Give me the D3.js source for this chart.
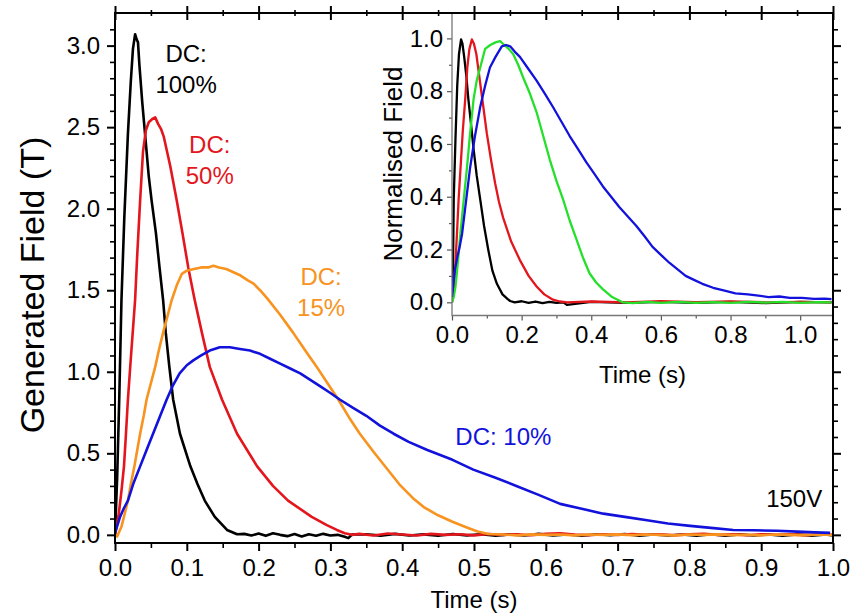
<!DOCTYPE html>
<html>
<head>
<meta charset="utf-8">
<script src="https://cdn.jsdelivr.net/npm/d3@7"></script>
<style>
  body { margin: 0; background: #fff; }
  svg text { font-family: "Liberation Sans", Arial, Helvetica, sans-serif; }
</style>
</head>
<body>
<svg width="856" height="614"></svg>
<script>
'use strict';

// ---- main panel: generated field (T) vs time (s) ----
const dc100 = [
  [0, 0], [0.003, 0.35], [0.006, 0.85], [0.009, 1.44], [0.013, 1.95], [0.018, 2.46],
  [0.022, 2.78], [0.025, 2.98], [0.028, 3.07], [0.030, 3.04], [0.032, 3.02], [0.034, 2.88],
  [0.038, 2.65], [0.043, 2.40], [0.047, 2.20], [0.051, 2.05], [0.057, 1.85], [0.062, 1.64],
  [0.067, 1.44], [0.0707, 1.24], [0.0757, 1.03], [0.081, 0.83], [0.0905, 0.62], [0.105, 0.42],
  [0.115, 0.31], [0.125, 0.21], [0.139, 0.11], [0.156, 0.03], [0.170, 0.004],
  [0.18, 0.006], [0.19, -0.004], [0.20, 0.008], [0.21, -0.006], [0.22, 0.01], [0.23, 0.0],
  [0.24, -0.008], [0.25, 0.005], [0.26, -0.01], [0.27, 0.004], [0.28, -0.006], [0.29, 0.006],
  [0.30, -0.004], [0.31, 0.0], [0.32, -0.012], [0.325, -0.02], [0.33, 0.002], [0.35, 0.004],
  [0.37, -0.005], [0.39, 0.006], [0.41, -0.004], [0.43, 0.003], [0.45, -0.006], [0.47, 0.005],
  [0.49, -0.003], [0.51, 0.004], [0.53, -0.005], [0.55, 0.003], [0.57, -0.004], [0.59, 0.006],
  [0.61, -0.003], [0.63, 0.002], [0.65, -0.006], [0.67, 0.004], [0.69, -0.002], [0.71, 0.005],
  [0.73, -0.006], [0.75, 0.003], [0.77, -0.004], [0.79, 0.002], [0.81, -0.006], [0.83, 0.004],
  [0.85, -0.005], [0.87, 0.003], [0.89, -0.004], [0.91, 0.002], [0.93, -0.006], [0.95, 0.003],
  [0.97, -0.005], [0.99, 0.002], [1.0, -0.003]
];

const dc50 = [
  [0, 0], [0.005, 0.12], [0.009, 0.27], [0.0125, 0.42], [0.015, 0.60], [0.018, 0.83],
  [0.022, 1.08], [0.025, 1.26], [0.028, 1.44], [0.031, 1.72], [0.035, 2.05], [0.039, 2.35],
  [0.043, 2.48], [0.047, 2.53], [0.052, 2.55], [0.056, 2.56], [0.060, 2.52], [0.064, 2.49],
  [0.068, 2.44], [0.072, 2.36], [0.077, 2.26], [0.086, 2.05], [0.094, 1.85], [0.102, 1.64],
  [0.111, 1.44], [0.121, 1.24], [0.132, 1.03], [0.149, 0.83], [0.170, 0.62], [0.198, 0.42],
  [0.220, 0.30], [0.241, 0.21], [0.274, 0.11], [0.295, 0.06], [0.309, 0.03], [0.32, 0.01],
  [0.33, 0.0], [0.34, 0.006], [0.36, -0.004], [0.38, 0.008], [0.40, 0.002], [0.42, -0.004],
  [0.44, 0.006], [0.46, 0.0], [0.48, 0.004], [0.50, -0.003], [0.52, 0.005], [0.54, 0.0],
  [0.56, 0.004], [0.58, -0.002], [0.60, 0.006], [0.62, 0.01], [0.64, 0.002], [0.66, -0.002],
  [0.68, 0.004], [0.70, 0.0], [0.72, 0.005], [0.74, 0.001], [0.76, 0.004], [0.78, -0.002],
  [0.80, 0.003], [0.82, 0.006], [0.84, 0.0], [0.86, 0.003], [0.88, -0.002], [0.90, 0.004],
  [0.92, 0.001], [0.94, 0.003], [0.96, -0.002], [0.98, 0.002], [1.0, 0.001]
];

const dc15 = [
  [0, 0], [0.003, -0.01], [0.006, 0.02], [0.009, 0.05], [0.013, 0.12], [0.018, 0.21],
  [0.022, 0.31], [0.027, 0.42], [0.031, 0.52], [0.035, 0.62], [0.040, 0.73], [0.044, 0.83],
  [0.050, 0.93], [0.056, 1.03], [0.061, 1.13], [0.067, 1.24], [0.073, 1.34], [0.079, 1.44],
  [0.086, 1.53], [0.093, 1.60], [0.100, 1.62], [0.110, 1.63], [0.120, 1.64], [0.130, 1.64],
  [0.137, 1.65], [0.145, 1.64], [0.155, 1.63], [0.165, 1.61], [0.175, 1.59], [0.185, 1.56],
  [0.193, 1.54], [0.202, 1.50], [0.212, 1.45], [0.230, 1.35], [0.248, 1.24], [0.265, 1.13],
  [0.281, 1.03], [0.296, 0.93], [0.311, 0.83], [0.326, 0.72], [0.341, 0.62], [0.360, 0.51],
  [0.378, 0.41], [0.396, 0.31], [0.415, 0.225], [0.430, 0.17], [0.450, 0.12], [0.470, 0.08],
  [0.490, 0.045], [0.505, 0.02], [0.52, 0.005], [0.54, 0.002], [0.56, -0.003], [0.58, 0.003],
  [0.60, 0.0], [0.62, 0.002], [0.64, -0.003], [0.66, 0.002], [0.68, 0.0], [0.70, 0.003],
  [0.72, -0.002], [0.74, 0.002], [0.76, 0.0], [0.78, -0.003], [0.80, 0.002], [0.82, 0.0],
  [0.84, 0.003], [0.86, -0.002], [0.88, 0.001], [0.90, -0.003], [0.92, 0.002], [0.94, 0.0],
  [0.96, -0.002], [0.98, 0.003], [1.0, 0.0]
];

const dc10 = [
  [0, 0.01], [0.007, 0.11], [0.012, 0.16], [0.018, 0.21], [0.026, 0.32], [0.035, 0.42],
  [0.044, 0.52], [0.053, 0.62], [0.062, 0.72], [0.072, 0.83], [0.080, 0.91], [0.090, 0.99],
  [0.100, 1.04], [0.109, 1.07], [0.120, 1.10], [0.132, 1.13], [0.146, 1.15], [0.160, 1.15],
  [0.174, 1.14], [0.188, 1.13], [0.202, 1.11], [0.216, 1.08], [0.230, 1.05], [0.244, 1.02],
  [0.258, 0.99], [0.272, 0.95], [0.286, 0.91], [0.300, 0.87], [0.313, 0.83], [0.331, 0.78],
  [0.350, 0.73], [0.369, 0.67], [0.388, 0.62], [0.409, 0.57], [0.435, 0.52], [0.470, 0.46],
  [0.499, 0.40], [0.530, 0.35], [0.559, 0.30], [0.590, 0.245], [0.620, 0.19], [0.650, 0.16],
  [0.680, 0.13], [0.710, 0.11], [0.741, 0.09], [0.770, 0.07], [0.801, 0.055], [0.830, 0.043],
  [0.861, 0.03], [0.890, 0.028], [0.922, 0.025], [0.950, 0.02], [0.975, 0.015], [0.996, 0.012]
];

// ---- inset: normalised field vs time (s) ----
const norm100 = [
  [0, 0], [0.003, 0.15], [0.005, 0.39], [0.010, 0.62], [0.015, 0.82], [0.020, 0.94],
  [0.026, 0.996], [0.030, 0.98], [0.035, 0.93], [0.041, 0.86], [0.047, 0.77], [0.055, 0.67],
  [0.062, 0.58], [0.071, 0.48], [0.081, 0.39], [0.092, 0.29], [0.104, 0.20], [0.116, 0.12],
  [0.129, 0.07], [0.145, 0.03], [0.160, 0.012], [0.167, 0.005], [0.18, 0.0], [0.20, 0.004],
  [0.22, -0.002], [0.24, 0.003], [0.26, -0.003], [0.28, 0.002], [0.30, -0.002], [0.32, 0.0],
  [0.33, -0.01], [0.40, 0.002], [0.50, -0.002], [0.60, 0.002], [0.70, -0.002], [0.80, 0.002],
  [0.90, -0.003], [1.00, 0.002], [1.09, 0.0]
];

const norm50 = [
  [0, 0], [0.005, 0.05], [0.010, 0.15], [0.015, 0.28], [0.019, 0.39], [0.025, 0.52],
  [0.031, 0.65], [0.038, 0.77], [0.044, 0.89], [0.050, 0.96], [0.057, 0.996], [0.063, 0.98],
  [0.070, 0.94], [0.076, 0.88], [0.081, 0.83], [0.090, 0.74], [0.100, 0.64], [0.112, 0.54],
  [0.124, 0.45], [0.135, 0.38], [0.147, 0.32], [0.170, 0.23], [0.195, 0.16], [0.220, 0.10],
  [0.243, 0.06], [0.265, 0.03], [0.290, 0.01], [0.310, 0.003], [0.330, 0.0], [0.40, 0.003],
  [0.50, 0.0], [0.60, 0.004], [0.70, 0.001], [0.80, 0.003], [0.90, 0.0], [1.00, 0.002], [1.09, 0.0]
];

const norm15 = [
  [0, 0], [0.005, 0.02], [0.010, 0.06], [0.016, 0.14], [0.024, 0.26], [0.033, 0.38],
  [0.043, 0.51], [0.052, 0.64], [0.062, 0.77], [0.071, 0.84], [0.081, 0.89], [0.095, 0.96],
  [0.110, 0.975], [0.125, 0.985], [0.138, 0.99], [0.150, 0.975], [0.163, 0.96], [0.176, 0.94],
  [0.190, 0.90], [0.205, 0.85], [0.224, 0.79], [0.243, 0.72], [0.262, 0.63], [0.281, 0.54],
  [0.300, 0.46], [0.319, 0.39], [0.338, 0.31], [0.357, 0.24], [0.376, 0.17], [0.395, 0.11],
  [0.414, 0.075], [0.433, 0.05], [0.460, 0.02], [0.490, 0.0], [0.52, -0.003], [0.56, 0.002],
  [0.60, -0.002], [0.65, 0.002], [0.70, -0.002], [0.75, 0.001], [0.80, -0.002], [0.85, 0.002],
  [0.90, -0.001], [0.95, 0.002], [1.00, -0.002], [1.05, 0.001], [1.09, 0.0]
];

const norm10 = [
  [0, 0.02], [0.008, 0.12], [0.015, 0.17], [0.022, 0.21], [0.029, 0.26], [0.040, 0.38],
  [0.052, 0.51], [0.066, 0.63], [0.081, 0.74], [0.095, 0.82], [0.109, 0.89], [0.125, 0.93],
  [0.143, 0.97], [0.155, 0.975], [0.167, 0.97], [0.180, 0.95], [0.195, 0.93], [0.219, 0.885],
  [0.243, 0.84], [0.267, 0.79], [0.290, 0.74], [0.314, 0.685], [0.338, 0.63], [0.362, 0.58],
  [0.386, 0.53], [0.410, 0.485], [0.433, 0.44], [0.457, 0.40], [0.481, 0.36], [0.505, 0.325],
  [0.529, 0.29], [0.553, 0.25], [0.576, 0.21], [0.600, 0.18], [0.624, 0.15], [0.648, 0.125],
  [0.671, 0.10], [0.695, 0.085], [0.719, 0.07], [0.750, 0.055], [0.780, 0.045], [0.814, 0.034],
  [0.850, 0.03], [0.880, 0.025], [0.909, 0.02], [0.940, 0.022], [0.970, 0.017], [1.005, 0.017],
  [1.040, 0.013], [1.070, 0.014], [1.090, 0.012]
];

// ticks
const mainXTicks = [0, 0.1, 0.2, 0.3, 0.4, 0.5, 0.6, 0.7, 0.8, 0.9, 1.0];
const mainXMinor = [0.05, 0.15, 0.25, 0.35, 0.45, 0.55, 0.65, 0.75, 0.85, 0.95];
const mainYTicks = [0, 0.5, 1.0, 1.5, 2.0, 2.5, 3.0];
const mainYMinor = [0.1, 0.2, 0.3, 0.4, 0.6, 0.7, 0.8, 0.9, 1.1, 1.2, 1.3, 1.4, 1.6, 1.7,
  1.8, 1.9, 2.1, 2.2, 2.3, 2.4, 2.6, 2.7, 2.8, 2.9, 3.1];
const insetXTicks = [0, 0.2, 0.4, 0.6, 0.8, 1.0];
const insetXMinor = [0.1, 0.3, 0.5, 0.7, 0.9];
const insetYTicks = [0, 0.2, 0.4, 0.6, 0.8, 1.0];
const insetYMinor = [0.1, 0.3, 0.5, 0.7, 0.9];

const colors = { k: '#000000', r: '#e3161d', o: '#f7931e', b: '#1212dc', g: '#25e02a' };

const svg = d3.select('svg');
const fmt = d3.format('.1f');

// ---------- main panel ----------
const m = { left: 115, right: 833, top: 13, bottom: 543 };
const x = d3.scaleLinear().domain([0, 1]).range([m.left, m.right]);
const y = d3.scaleLinear().domain([-0.05, 3.2]).range([m.bottom, m.top]);

svg.append('defs').append('clipPath').attr('id', 'clipMain')
  .append('rect').attr('x', m.left).attr('y', m.top)
  .attr('width', m.right - m.left).attr('height', m.bottom - m.top);

const line = d3.line().x(d => x(d[0])).y(d => y(d[1]));
const plot = svg.append('g').attr('clip-path', 'url(#clipMain)');
[[dc100, colors.k], [dc50, colors.r], [dc15, colors.o], [dc10, colors.b]].forEach(([d, c]) => {
  plot.append('path').datum(d).attr('d', line)
    .attr('fill', 'none').attr('stroke', c).attr('stroke-width', 2.6)
    .attr('stroke-linejoin', 'round');
});

function styleAxis(g, width) {
  g.select('.domain').remove();
  g.selectAll('line').attr('stroke', '#000').attr('stroke-width', width);
  g.selectAll('text').style('font-size', '24px').style('fill', '#000');
}

// bottom
svg.append('g').attr('transform', `translate(0,${m.bottom})`)
  .call(d3.axisBottom(x).tickValues(mainXTicks).tickSizeInner(8).tickSizeOuter(0)
    .tickPadding(8).tickFormat(fmt))
  .call(g => styleAxis(g, 2));
svg.append('g').attr('transform', `translate(0,${m.bottom})`)
  .call(d3.axisBottom(x).tickValues(mainXMinor).tickSize(5).tickFormat(''))
  .call(g => styleAxis(g, 1.6));
// top (ticks cross the line)
[[7, 2, mainXTicks], [-7, 2, mainXTicks], [3, 1.6, mainXMinor], [-3, 1.6, mainXMinor]].forEach(([s, w, t]) => {
  svg.append('g').attr('transform', `translate(0,${m.top})`)
    .call(d3.axisTop(x).tickValues(t).tickSize(s).tickFormat(''))
    .call(g => styleAxis(g, w));
});
// left
svg.append('g').attr('transform', `translate(${m.left},0)`)
  .call(d3.axisLeft(y).tickValues(mainYTicks).tickSizeInner(8).tickSizeOuter(0)
    .tickPadding(7).tickFormat(fmt))
  .call(g => styleAxis(g, 2));
svg.append('g').attr('transform', `translate(${m.left},0)`)
  .call(d3.axisLeft(y).tickValues(mainYMinor).tickSize(5).tickFormat(''))
  .call(g => styleAxis(g, 1.6));
// right
svg.append('g').attr('transform', `translate(${m.right},0)`)
  .call(d3.axisRight(y).tickValues(mainYTicks).tickSize(8).tickFormat(''))
  .call(g => styleAxis(g, 2));
svg.append('g').attr('transform', `translate(${m.right},0)`)
  .call(d3.axisRight(y).tickValues(mainYMinor).tickSize(5).tickFormat(''))
  .call(g => styleAxis(g, 1.6));

// axis titles
svg.append('text').attr('x', (m.left + m.right) / 2).attr('y', 608)
  .attr('text-anchor', 'middle').style('font-size', '24px').style('fill', '#000').text('Time (s)');
svg.append('text').attr('transform', 'translate(44,285) rotate(-90)')
  .attr('text-anchor', 'middle').style('font-size', '34px').style('fill', '#000')
  .text('Generated Field (T)');

// annotations
function note(lines, tx, by, color, anchor) {
  const t = svg.append('text').attr('text-anchor', anchor || 'middle')
    .style('font-size', '24px').style('fill', color);
  lines.forEach((s, i) => {
    t.append('tspan').attr('x', x(tx)).attr('y', y(by) + i * 31).text(s);
  });
}
note(['DC:', '100%'], 0.099, 2.90, colors.k);
note(['DC:', '50%'], 0.132, 2.34, colors.r);
note(['DC:', '15%'], 0.287, 1.53, colors.o);
note(['DC: 10%'], 0.474, 0.55, colors.b, 'start');
note(['150V'], 0.985, 0.17, colors.k, 'end');

// ---------- inset ----------
const n = { left: 452, right: 835, top: 12, bottom: 315.5 };
const xi = d3.scaleLinear().domain([0, 1.1]).range([n.left, n.right]);
const yi = d3.scaleLinear().domain([-0.05, 1.1]).range([n.bottom, n.top]);

svg.append('defs').append('clipPath').attr('id', 'clipInset')
  .append('rect').attr('x', n.left).attr('y', 14)
  .attr('width', m.right - n.left).attr('height', n.bottom - 14);

const lineI = d3.line().x(d => xi(d[0])).y(d => yi(d[1]));
const inset = svg.append('g').attr('clip-path', 'url(#clipInset)');
[[norm100, colors.k], [norm50, colors.r], [norm15, colors.g], [norm10, colors.b]].forEach(([d, c]) => {
  inset.append('path').datum(d).attr('d', lineI)
    .attr('fill', 'none').attr('stroke', c).attr('stroke-width', 2.3)
    .attr('stroke-linejoin', 'round');
});

function styleInset(g) {
  g.select('.domain').remove();
  g.selectAll('line').attr('stroke', '#555').attr('stroke-width', 1.2);
  g.selectAll('text').style('font-size', '24px').style('fill', '#000');
}
svg.append('g').attr('transform', `translate(0,${n.bottom})`)
  .call(d3.axisBottom(xi).tickValues(insetXTicks).tickSizeInner(5).tickSizeOuter(0)
    .tickPadding(5).tickFormat(fmt))
  .call(styleInset);
svg.append('g').attr('transform', `translate(0,${n.bottom})`)
  .call(d3.axisBottom(xi).tickValues(insetXMinor).tickSize(3).tickFormat(''))
  .call(styleInset);
svg.append('g').attr('transform', `translate(${n.left},0)`)
  .call(d3.axisLeft(yi).tickValues(insetYTicks).tickSizeInner(5).tickSizeOuter(0)
    .tickPadding(4).tickFormat(fmt))
  .call(styleInset);
svg.append('g').attr('transform', `translate(${n.left},0)`)
  .call(d3.axisLeft(yi).tickValues(insetYMinor).tickSize(3).tickFormat(''))
  .call(styleInset);

// inset frame (left + bottom)
svg.append('path')
  .attr('d', `M${n.left},${m.top}V${n.bottom}H${m.right}`)
  .attr('fill', 'none').attr('stroke', '#777').attr('stroke-width', 1.3);

svg.append('text').attr('x', (n.left + m.right) / 2).attr('y', 383)
  .attr('text-anchor', 'middle').style('font-size', '24px').style('fill', '#000').text('Time (s)');
svg.append('text').attr('transform', 'translate(402,164) rotate(-90)')
  .attr('text-anchor', 'middle').style('font-size', '26px').style('fill', '#000')
  .text('Normalised Field');

// main frame on top
svg.append('path')
  .attr('d', `M${m.left},${m.bottom}V${m.top}H${m.right}V${m.bottom}Z`)
  .attr('fill', 'none').attr('stroke', '#000').attr('stroke-width', 2);
</script>
</body>
</html>
